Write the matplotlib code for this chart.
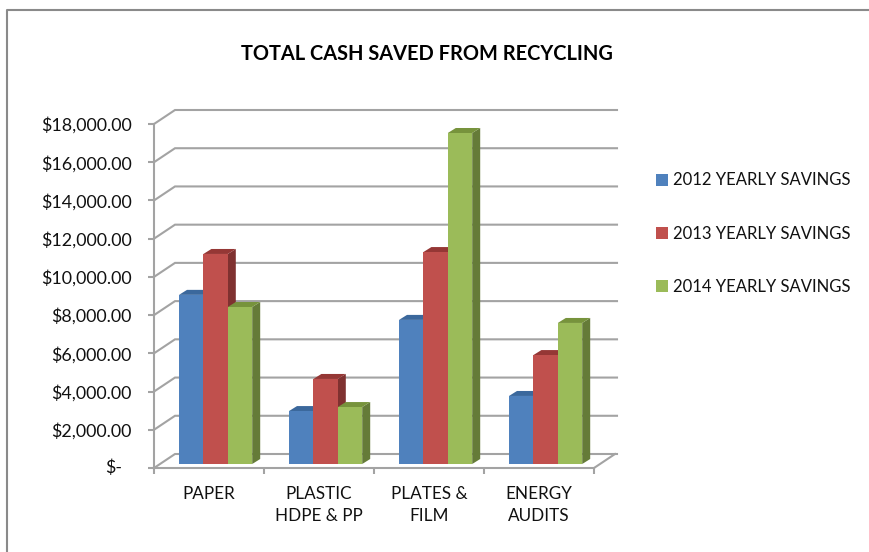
#!/usr/bin/env python3
"""Total cash saved from recycling, drawn as fake 3D clustered columns."""

import matplotlib

matplotlib.use("Agg")
import matplotlib.pyplot as plt
import numpy as np
from matplotlib.lines import Line2D
from matplotlib.patches import Polygon

categories = ["PAPER", "PLASTIC\nHDPE & PP", "PLATES &\nFILM", "ENERGY\nAUDITS"]
savings_2012 = [8850, 2770, 7540, 3560]
savings_2013 = [10990, 4450, 11090, 5700]
savings_2014 = [8215, 2980, 17320, 7380]
series_labels = ["2012 YEARLY SAVINGS", "2013 YEARLY SAVINGS", "2014 YEARLY SAVINGS"]
y_ticks = [0, 2000, 4000, 6000, 8000, 10000, 12000, 14000, 16000, 18000]
y_labels = ["", "$2,000.00", "$4,000.00", "$6,000.00", "$8,000.00", "$10,000.00",
            "$12,000.00", "$14,000.00", "$16,000.00", "$18,000.00"]

front = ["#4F81BD", "#C0504D", "#9BBB59"]
side = ["#3A5F8C", "#7F3130", "#657B38"]
top = ["#3B689C", "#953735", "#77933C"]

W, H = 869, 552
plt.rcParams["font.family"] = ["Lato", "DejaVu Sans"]
fig = plt.figure(figsize=(W / 100, H / 100), dpi=100)

# plot area in pixels
left, right, y_top, y_base = 154, 594, 124, 468
ax = fig.add_axes([left / W, 1 - y_base / H, (right - left) / W, (y_base - y_top) / H])
ax.set_xlim(0, 4)
ax.set_ylim(0, 18000)
ax.set_facecolor("none")

# pixels to data units
px_x = 4 / (right - left)
px_y = 18000 / (y_base - y_top)

GRID = "#a3a3a3"

# back wall lines with their slanted part on the left wall
wall_dx, wall_dy = 21 * px_x, 14 * px_y
wall_end = 4 + 23 * px_x
for v in y_ticks:
    ax.plot([0, wall_dx, wall_end], [v, v + wall_dy, v + wall_dy], color=GRID, lw=1.5,
            clip_on=False, zorder=1, solid_joinstyle="miter")
ax.plot([4, wall_dx + 4], [0, wall_dy], color=GRID, lw=1.5, clip_on=False, zorder=1)

# columns
bar_w = 24.4 * px_x
first_bar = 25 * px_x
base = 4 * px_y
depth_x, depth_y = 8 * px_x, 5 * px_y
group = np.arange(len(categories))
z = 3
for i, vals in enumerate([savings_2012, savings_2013, savings_2014]):
    xs = group + first_bar + i * bar_w
    ax.bar(xs, vals, bar_w, bottom=base, align="edge", color=front[i], lw=0,
           zorder=z + 1, clip_on=False)
    for x0, v in zip(xs, vals):
        y1 = v + base
        x1 = x0 + bar_w
        ax.add_patch(Polygon([(x1, base), (x1 + depth_x, base + depth_y),
                              (x1 + depth_x, y1 + depth_y), (x1, y1)],
                             fc=side[i], lw=0, zorder=z, clip_on=False))
        ax.add_patch(Polygon([(x0, y1), (x1, y1), (x1 + depth_x, y1 + depth_y),
                              (x0 + depth_x, y1 + depth_y)],
                             fc=top[i], lw=0, zorder=z, clip_on=False))
    z += 2

# axes
for name in ["top", "right"]:
    ax.spines[name].set_visible(False)
for name in ["left", "bottom"]:
    ax.spines[name].set_color(GRID)
    ax.spines[name].set_linewidth(1.5)
    ax.spines[name].set_zorder(2)

ax.set_yticks(y_ticks)
ax.set_yticklabels(y_labels, fontsize=12.9, color="#111111")
ax.tick_params(axis="y", length=4, width=1.5, color=GRID, pad=12)
ax.set_xticks(range(5))
ax.set_xticklabels([])
ax.tick_params(axis="x", which="major", length=4, width=1.5, color=GRID)
ax.set_xticks(group + 0.5, minor=True)
ax.set_xticklabels(categories, minor=True, fontsize=12.3, color="#111111", linespacing=1.43)
ax.tick_params(axis="x", which="minor", length=0, pad=13)

ax.annotate("$-", (0, 0), xytext=(105, 0), xycoords="data", fontsize=12.9, color="#111111",
            textcoords=matplotlib.transforms.blended_transform_factory(
                matplotlib.transforms.IdentityTransform(), ax.transData),
            va="center", ha="left", annotation_clip=False)

fig.text(426.5 / W, 1 - 54 / H, "TOTAL CASH SAVED FROM RECYCLING", fontsize=14.4, weight="bold",
         ha="center", va="center", color="#000000")

handles = [Line2D([], [], ls="", marker="s", ms=8, mfc=c, mec=c, mew=0) for c in front]
fig.legend(handles, series_labels, loc="upper left", bbox_to_anchor=(640 / W, 1 - 164 / H),
           frameon=False, fontsize=12, labelcolor="#111111", labelspacing=2.24,
           handletextpad=-0.1, borderpad=0, handlelength=1.6)

# chart border, open at the bottom and right
fig.add_artist(Line2D([7 / W, 7 / W, 1], [0, 1 - 10 / H, 1 - 10 / H], color="#8a8a8a", lw=1.5))

fig.savefig("out.png", dpi=100)
plt.close(fig)
